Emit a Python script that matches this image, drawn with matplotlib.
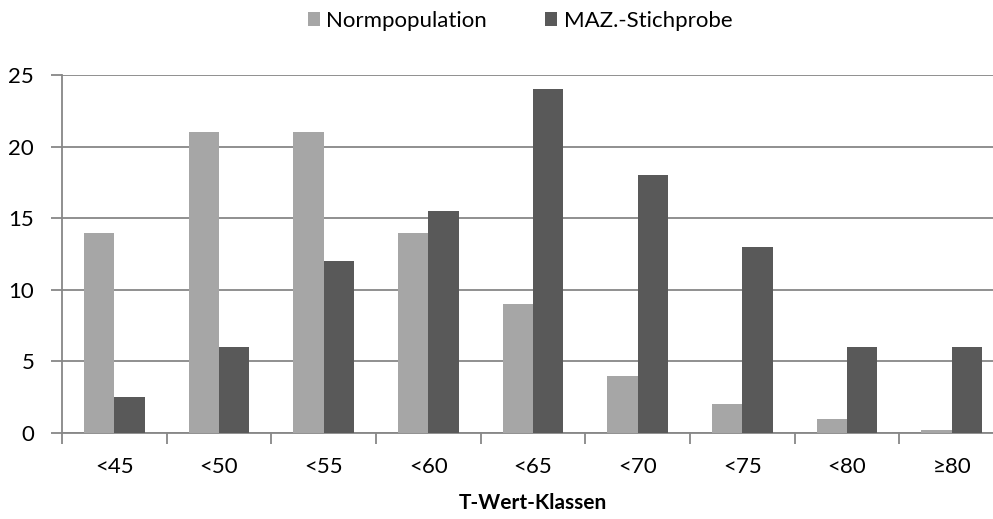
import numpy as np
import matplotlib.pyplot as plt

plt.rcParams['font.family'] = ['Lato', 'DejaVu Sans']

categories = ['<45', '<50', '<55', '<60', '<65', '<70', '<75', '<80', '≥80']
norm = [14, 21, 21, 14, 9, 4, 2, 1, 0.2]
maz = [2.5, 6, 12, 15.5, 24, 18, 13, 6, 6]

W, H = 993, 519
fig = plt.figure(figsize=(W / 100, H / 100), dpi=100)
ax = fig.add_axes([62 / W, (H - 433) / H, (1004 - 62) / W, (433 - 75) / H])

x = np.arange(len(categories))
bw = 0.29
ax.bar(x - bw / 2, norm, bw, color='#a6a6a6', label='Normpopulation', zorder=3)
ax.bar(x + bw / 2, maz, bw, color='#595959', label='MAZ.-Stichprobe', zorder=3)

ax.set_xlim(-0.5, len(categories) - 0.5)
ax.set_ylim(0, 25)
ax.set_yticks(range(0, 26, 5))
ax.yaxis.grid(True, color='#878787', linewidth=1.3, zorder=0)

fs = 16
ax.set_xticks(x)
ax.set_xticklabels(categories, fontsize=fs)
ax.set_xticks(np.arange(-0.5, len(categories)), minor=True)
ax.tick_params(axis='x', which='major', length=0, pad=17)
ax.tick_params(axis='x', which='minor', length=8, width=1.3, color='#878787')
ax.tick_params(axis='y', length=8, width=1.3, color='#878787', labelsize=fs, pad=12)

for s in ['top', 'right']:
    ax.spines[s].set_visible(False)
for s in ['left', 'bottom']:
    ax.spines[s].set_color('#878787')
    ax.spines[s].set_linewidth(1.3)

ax.set_xlabel('T-Wert-Klassen', fontsize=fs - 1, fontweight='bold', labelpad=12)

fig.legend(loc='center', bbox_to_anchor=(520 / W, 1 - 21 / H), ncol=2, frameon=False,
           fontsize=fs, handlelength=0.55, handleheight=0.55, handletextpad=0.3,
           columnspacing=2.6)

fig.savefig('out.png', dpi=100)
